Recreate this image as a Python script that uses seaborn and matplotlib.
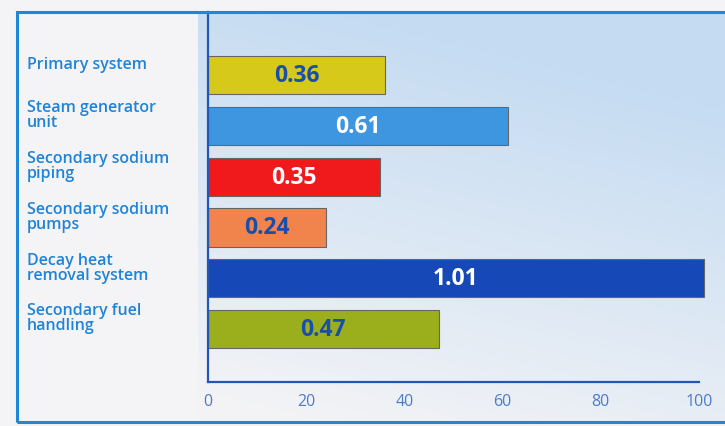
import matplotlib.pyplot as plt
import matplotlib.patches as mpatches
import matplotlib.transforms as mtransforms
import numpy as np
import pandas as pd
import seaborn as sns

# data
systems = ["Primary system", "Steam generator\nunit", "Secondary sodium\npiping",
           "Secondary sodium\npumps", "Decay heat\nremoval system", "Secondary fuel\nhandling"]
values = [0.36, 0.61, 0.35, 0.24, 1.01, 0.47]
bar_colors = ["#d6c91a", "#3f96e0", "#f0191c", "#f0844c", "#1748b8", "#9bae1c"]
value_colors = ["#1a4fa8", "white", "white", "#1a4fa8", "white", "#1a4fa8"]
x_ticks = [0, 20, 40, 60, 80, 100]

df = pd.DataFrame({"system": systems, "value": values})
df["length"] = df["value"] * 100

sns.set_style("white")
plt.rcParams['font.family'] = ['Open Sans', 'DejaVu Sans']

W, H = 725, 427
fig = plt.figure(figsize=(W / 100, H / 100), dpi=100, facecolor="#f4f4f6")

# gradient panel behind the bars (blue at the top right, fading to the page colour at the bottom)
bg = fig.add_axes([198 / W, 1 - 423 / H, 1 - 198 / W, (423 - 13) / H])
yy, xx = np.mgrid[0:1:200j, 0:1:300j]
t = np.clip(0.95 * (1 - yy) + 0.3 * xx - 0.05, 0, 1)
top = np.array([0.77, 0.86, 0.95])
bot = np.array([0.955, 0.955, 0.965])
img = bot + (top - bot) * t[..., None]
bg.imshow(img, aspect="auto", origin="upper", extent=[0, 1, 0, 1])
bg.axis("off")

ax = fig.add_axes([208 / W, 1 - 383 / H, (699 - 208) / W, (383 - 13) / H])
ax.patch.set_alpha(0)
sns.barplot(data=df, y="system", x="length", hue="system", palette=bar_colors,
            orient="h", width=0.75, legend=False, ax=ax, saturation=1,
            edgecolor="#666666", linewidth=0.8)
for p in ax.patches:
    p.set_clip_on(False)

ax.set_xlim(0, 100)
ax.set_ylim(len(systems) - 1 + 1.04, -1.24)
ax.set_xticks(x_ticks)
ax.set_yticks([])
ax.set_xlabel("")
ax.set_ylabel("")
for s in ["top", "right"]:
    ax.spines[s].set_visible(False)
for s in ["left", "bottom"]:
    ax.spines[s].set_color("#2456b4")
    ax.spines[s].set_linewidth(1.6)
ax.tick_params(axis="x", direction="in", length=6, width=1.2, color="#2456b4",
               labelcolor="#4a7cc8", labelsize=11.5, pad=8)

for i, (v, c) in enumerate(zip(values, value_colors)):
    ax.text(v * 100 / 2, i, f"{v:.2f}", ha="center", va="center", color=c,
            fontsize=16.5, fontweight="bold")

# category labels in the left panel
trans = mtransforms.blended_transform_factory(fig.transFigure, ax.transData)
for i, name in enumerate(systems):
    ax.text(27 / W, i - 0.22, name, transform=trans,
            ha="left", va="center", color="#1f84d8", fontsize=11.5,
            fontweight="semibold", linespacing=0.92)

# outer frame
fig.patches.append(mpatches.Rectangle((17 / W, 1 - 423 / H), 1.1, (423 - 13) / H,
                                      transform=fig.transFigure, fill=False,
                                      edgecolor="#1f86d8", linewidth=2.2))

fig.savefig("out.png", dpi=100, facecolor=fig.get_facecolor())
